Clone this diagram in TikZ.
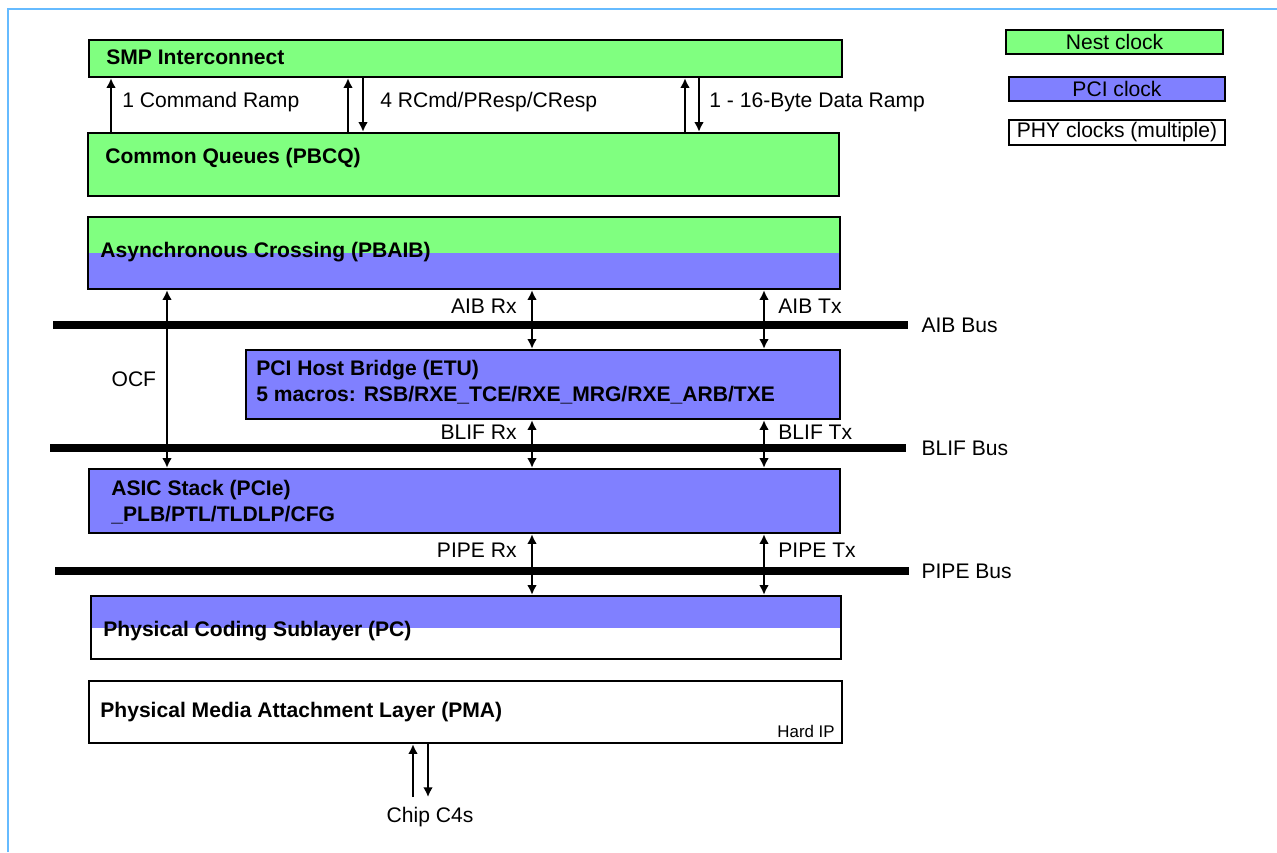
\documentclass[tikz,border=0pt]{standalone}
\usepackage{fontspec}
\setmainfont{Liberation Sans}
\usetikzlibrary{arrows.meta}
\usetikzlibrary{fit}

\definecolor{nestclk}{HTML}{80FF80}
\definecolor{pciclk}{HTML}{8080FF}
\definecolor{framecol}{HTML}{66BBFF}

\begin{document}
\begin{tikzpicture}[x=0.02cm, y=-0.02cm,
  every node/.style={font=\fontsize{12}{14.4}\selectfont},
  blk/.style={draw, line width=1.4pt, inner sep=0pt},
  key/.style={draw, line width=1.2pt, inner sep=0pt},
  lbl/.style={inner sep=0pt, font=\fontsize{12}{14.4}\selectfont\bfseries},
  txt/.style={inner sep=0pt},
  bus/.style={line width=4pt},
  sig/.style={line width=1pt, >={Latex[length=5.5pt,width=5.5pt]}},
  halves/.style 2 args={path picture={
    \fill[#1] (path picture bounding box.north west) rectangle (path picture bounding box.east);
    \fill[#2] (path picture bounding box.west) rectangle (path picture bounding box.south east);}}
]

\useasboundingbox (0,0) rectangle (1277,852);

\draw[framecol, line width=1.6pt] (8,852) -- (8,9) -- (1277,9);

%Draw Blocks
\node[blk, fill=nestclk, fit={(89,40) (842,77)}] (smp) {};
\node[blk, fill=nestclk, fit={(88,133) (839,196)}] (pbcq) {};
\node[blk, halves={nestclk}{pciclk}, fit={(88,217) (840,289)}] (pbaib) {};
\node[blk, fill=pciclk, fit={(246,350) (840,419)}] (etu) {};
\node[blk, fill=pciclk, fit={(89,469) (840,533)}] (asic) {};
\node[blk, halves={pciclk}{white}, fit={(91,596) (841,659)}] (pcs) {};
\node[blk, fill=white, fit={(89,681) (842,743)}] (pma) {};

\node[lbl, anchor=west] (smptxt) at (106,57) {SMP Interconnect};
\node[lbl, anchor=west] (pbcqtxt) at (105,158) {Common Queues (PBCQ)};
\node[lbl, anchor=west] (pbaibtxt) at (100,252) {Asynchronous Crossing (PBAIB)};
\node[lbl, anchor=west, align=left] (etutxt) at (256,382)
  {PCI Host Bridge (ETU)\\5 macros: RSB/RXE\_TCE/RXE\_MRG/RXE\_ARB/TXE};
\node[lbl, anchor=west, align=left] (asictxt) at (111,502)
  {ASIC Stack (PCIe)\\\_PLB/PTL/TLDLP/CFG};
\node[lbl, anchor=west] (pcstxt) at (103,631) {Physical Coding Sublayer (PC)};
\node[lbl, anchor=west] (pmatxt) at (100,712) {Physical Media Attachment Layer (PMA)};
\node[txt, anchor=east, font=\fontsize{9.6}{11}\selectfont] (hardip) at (835,731) {Hard IP};

%Draw Legend
\node[key, fill=nestclk, minimum width=4.34cm, minimum height=0.48cm] (nestkey) at (1114.5,42) {Nest clock};
\node[key, fill=pciclk, minimum width=4.32cm, minimum height=0.48cm] (pcikey) at (1117,89) {PCI clock};
\node[key, fill=white, minimum width=4.32cm, minimum height=0.5cm] (phykey) at (1117,132.5) {PHY clocks (multiple)};

%Draw Buses
\draw[bus] (53,325) -- (908,325) node[txt, right=0.2cm] (aibbus) {AIB Bus};
\draw[bus] (50,448) -- (906,448) node[txt, right=0.24cm] (blifbus) {BLIF Bus};
\draw[bus] (55,571) -- (909,571) node[txt, right=0.18cm] (pipebus) {PIPE Bus};

%Draw Ramps
\draw[sig, ->] (pbcq.north -| 111,0) -- (smp.south -| 111,0);
\draw[sig, ->] (pbcq.north -| 348,0) -- (smp.south -| 348,0);
\draw[sig, ->] (smp.south -| 363,0) -- (pbcq.north -| 363,0);
\draw[sig, ->] (pbcq.north -| 685,0) -- (smp.south -| 685,0);
\draw[sig, ->] (smp.south -| 699,0) -- (pbcq.north -| 699,0);

\node[txt, anchor=west] (cmdramp) at (122,102) {1 Command Ramp};
\node[txt, anchor=west] (rspramp) at (380,102) {4 RCmd/PResp/CResp};
\node[txt, anchor=west] (datramp) at (709,102) {1 - 16-Byte Data Ramp};

%Draw Rx/Tx Links
\coordinate (rxcol) at (532,0);
\coordinate (txcol) at (764,0);

\draw[sig, <->] (pbaib.south -| rxcol) -- (etu.north -| rxcol);
\draw[sig, <->] (pbaib.south -| txcol) -- (etu.north -| txcol);
\draw[sig, <->] (etu.south -| rxcol) -- (asic.north -| rxcol);
\draw[sig, <->] (etu.south -| txcol) -- (asic.north -| txcol);
\draw[sig, <->] (asic.south -| rxcol) -- (pcs.north -| rxcol);
\draw[sig, <->] (asic.south -| txcol) -- (pcs.north -| txcol);

\node[txt, anchor=east] (aibrx) at (517,306) {AIB Rx};
\node[txt, anchor=west] (aibtx) at (778,306) {AIB Tx};
\node[txt, anchor=east] (blifrx) at (517,432) {BLIF Rx};
\node[txt, anchor=west] (bliftx) at (778,432) {BLIF Tx};
\node[txt, anchor=east] (piperx) at (517,550) {PIPE Rx};
\node[txt, anchor=west] (pipetx) at (778,550) {PIPE Tx};

\draw[sig, <->] (pbaib.south -| 167,0) -- node[txt, left=0.2cm] (ocf) {OCF} (asic.north -| 167,0);

%Draw Chip Pins
\node[txt] (c4s) at (430,817) {Chip C4s};
\coordinate (padtop) at (420,797);
\draw[sig, ->] (padtop -| 413,0) -- (pma.south -| 413,0);
\draw[sig, ->] (pma.south -| 428,0) -- (padtop -| 428,0);

\end{tikzpicture}
\end{document}
